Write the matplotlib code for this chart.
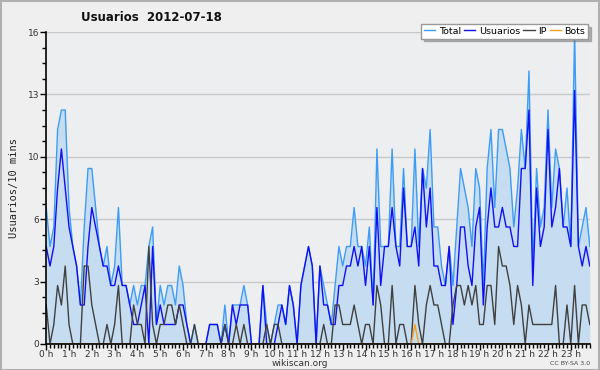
import matplotlib
matplotlib.use('Agg')
from matplotlib import pyplot as plt
from matplotlib.ticker import FixedLocator, MultipleLocator

# one value per 10 minutes, 0:00 .. 23:50
total = [7, 5, 6, 11, 12, 12, 7, 5, 4, 2, 6, 9, 9, 7, 5, 4, 5, 3, 4, 7, 3, 3, 2, 3,
         2, 3, 3, 5, 6, 1, 3, 2, 3, 3, 2, 4, 3, 1, 0, 1, 0, 0, 0, 1, 1, 1, 0, 2,
         0, 2, 2, 2, 3, 2, 0, 0, 0, 3, 1, 0, 1, 2, 2, 1, 3, 2, 0, 3, 4, 5, 4, 0,
         4, 3, 2, 1, 3, 5, 4, 5, 5, 7, 5, 5, 4, 6, 2, 10, 5, 5, 5, 10, 5, 5, 9, 5,
         5, 10, 5, 9, 8, 11, 6, 6, 4, 3, 5, 3, 6, 9, 8, 7, 5, 9, 8, 3, 9, 11, 7, 11,
         11, 10, 9, 6, 8, 11, 9, 14, 4, 9, 6, 7, 12, 7, 10, 9, 6, 8, 5, 16, 5, 6, 7, 5]
usuarios = [5, 4, 5, 8, 10, 8, 6, 5, 4, 2, 2, 5, 7, 6, 5, 4, 4, 3, 3, 4, 3, 3, 2, 1,
            1, 2, 3, 0, 5, 1, 2, 1, 1, 1, 1, 2, 2, 1, 0, 0, 0, 0, 0, 1, 1, 1, 0, 1,
            0, 2, 1, 2, 2, 2, 0, 0, 0, 3, 0, 0, 0, 1, 2, 1, 3, 2, 0, 3, 4, 5, 4, 0,
            4, 2, 2, 1, 1, 3, 3, 4, 4, 5, 4, 5, 3, 5, 2, 7, 3, 5, 5, 7, 5, 4, 8, 5,
            5, 6, 4, 9, 6, 8, 4, 4, 3, 3, 5, 1, 3, 6, 6, 4, 3, 6, 7, 2, 6, 8, 6, 6,
            7, 6, 6, 5, 5, 9, 9, 12, 3, 8, 5, 6, 11, 6, 7, 9, 6, 6, 5, 13, 5, 4, 5, 4]
ip = [2, 0, 1, 3, 2, 4, 1, 0, 0, 0, 4, 4, 2, 1, 0, 0, 1, 0, 1, 3, 0, 0, 0, 2,
      1, 1, 0, 5, 1, 0, 1, 1, 2, 2, 1, 2, 1, 0, 0, 1, 0, 0, 0, 0, 0, 0, 0, 1,
      0, 0, 1, 0, 1, 0, 0, 0, 0, 0, 1, 0, 1, 1, 0, 0, 0, 0, 0, 0, 0, 0, 0, 0,
      0, 1, 0, 0, 2, 2, 1, 1, 1, 2, 1, 0, 1, 1, 0, 3, 2, 0, 0, 3, 0, 1, 1, 0,
      0, 3, 1, 0, 2, 3, 2, 2, 1, 0, 0, 2, 3, 3, 2, 3, 2, 3, 1, 1, 3, 3, 1, 5,
      4, 4, 3, 1, 3, 2, 0, 2, 1, 1, 1, 1, 1, 1, 3, 0, 0, 2, 0, 3, 0, 2, 2, 1]
bots = [0] * 97 + [1] + [0] * 46

hour_labels = [f'{h} h' for h in range(24)]
ytick_vals = [0, 3.2, 6.4, 9.6, 12.8, 16]
ytick_labels = ['0', '3', '6', '10', '13', '16']

x = list(range(len(total)))

fig = plt.figure(figsize=(6, 3.7), dpi=100, facecolor='#efefef')
ax = fig.add_axes([0.077, 0.0703, 0.906, 0.8432])
ax.set_facecolor('#eceef0')

# area + lines
ax.fill_between(x, total, 0, color='#c6dcf0', lw=0)
ax.plot(x, total, color='#3d9cf5', lw=1, label='Total')
ax.plot(x, usuarios, color='#1010f0', lw=1, label='Usuarios')
ax.plot(x, ip, color='#404040', lw=1, label='IP')
ax.plot(x, bots, color='#f5a020', lw=1, label='Bots')

ax.set_xlim(0, len(total) - 1)
ax.set_ylim(0, 16)

# y axis
ax.yaxis.set_major_locator(FixedLocator(ytick_vals))
ax.set_yticklabels(ytick_labels)
ax.yaxis.set_minor_locator(MultipleLocator(0.8))
ax.grid(axis='y', which='major', color='#c8c8c8', lw=1)
ax.set_axisbelow(True)

# x axis: hours labelled, 10-minute ticks
ax.set_xticks(list(range(0, 144, 6)))
ax.set_xticklabels(hour_labels)
ax.xaxis.set_minor_locator(MultipleLocator(1))

ax.tick_params(axis='both', which='major', labelsize=6.5, length=4, width=1,
               color='black', labelcolor='#333333', pad=1)
ax.tick_params(axis='x', which='major', pad=0)
ax.tick_params(axis='both', which='minor', length=3, width=1, color='black')

for s in ['top', 'right']:
    ax.spines[s].set_visible(False)
for s in ['left', 'bottom']:
    ax.spines[s].set_color('black')
    ax.spines[s].set_linewidth(1.2)

ax.set_ylabel('Usuarios/10 mins', family='DejaVu Sans Mono', fontsize=7.5,
              color='#222222', labelpad=6)

fig.text(0.253, 0.953, 'Usuarios  2012-07-18', fontsize=8.5, fontweight='bold',
         ha='center', va='center', color='#111111')
fig.text(0.5, 0.017, 'wikiscan.org', fontsize=6.5, ha='center', va='center',
         color='#333333')
fig.text(0.983, 0.017, 'CC BY-SA 3.0', fontsize=4.5, ha='right', va='center',
         color='#444444')

leg = fig.legend(loc='upper right', bbox_to_anchor=(0.988, 0.948), ncol=4,
                 fontsize=6.8, handlelength=1.2, handletextpad=0.35,
                 columnspacing=0.35, borderpad=0.3, frameon=True, fancybox=False,
                 shadow={'color': '#777777'}, edgecolor='#999999')
leg.get_frame().set_facecolor('white')
leg.get_frame().set_alpha(1)

# outer border
fig.patches.append(plt.Rectangle((0.001, 0.001), 0.997, 0.997, transform=fig.transFigure,
                                 fill=False, edgecolor='#b0b0b0', lw=1.5))

fig.savefig('out.png', dpi=100, facecolor=fig.get_facecolor())
